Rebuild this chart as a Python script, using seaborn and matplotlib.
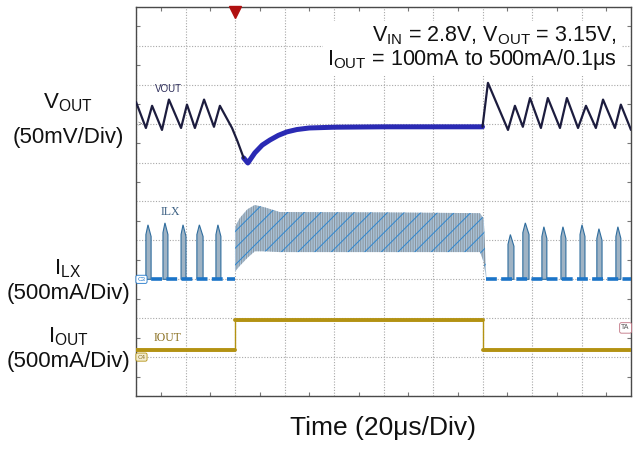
import matplotlib

matplotlib.use("Agg")

import matplotlib.pyplot as plt
import numpy as np
import pandas as pd
import seaborn as sns

# scope screen: time in us (20 us/div), amplitude in screen divisions
# channel zero levels: VOUT at 7 div, ILX at 3 div, IOUT at 1 div
time_span_us = 200
n_vdiv = 10

# VOUT ripple before the load step (PFM), black trace
vout_pre_t = [0.0, 4.0, 6.5, 10.5, 13.3, 18.2, 20.6, 23.8, 27.5, 31.5, 33.9, 38.8, 41.0, 43.5]
vout_pre_div = [7.56, 6.89, 7.46, 6.84, 7.62, 6.89, 7.49, 6.89, 7.62, 6.92, 7.46, 6.89, 6.55, 6.12]

# VOUT undershoot and recovery under load, blue trace
vout_load_t = [43.5, 45.2, 48.0, 51.0, 54.1, 57.5, 61.0, 65.0, 70.0, 80.0, 100.0, 120.0, 140.0]
vout_load_div = [6.12, 5.99, 6.25, 6.45, 6.58, 6.70, 6.79, 6.85, 6.89, 6.91, 6.92, 6.92, 6.92]

# VOUT overshoot after load release, back to PFM ripple
vout_post_t = [140.0, 142.2, 150.3, 153.1, 156.3, 159.2, 163.6, 166.4, 171.3, 174.1,
               178.6, 181.8, 185.8, 188.7, 193.5, 195.9, 200.0]
vout_post_div = [6.92, 8.05, 6.84, 7.46, 6.92, 7.66, 6.89, 7.66, 6.89, 7.66,
                 6.89, 7.46, 6.89, 7.62, 6.89, 7.49, 6.84]

# ILX: PFM bursts (light load)
ilx_zero_div = 3.0
ilx_idle_start = [0.0, 141.5]
ilx_idle_end = [40.0, 200.0]
ilx_burst_start = [4.0, 10.9, 18.2, 24.6, 32.3, 150.3, 156.3, 164.0, 171.7, 179.4, 186.2, 193.9]
ilx_burst_end = [6.1, 12.9, 20.2, 27.1, 34.3, 152.7, 158.8, 166.0, 173.7, 181.4, 188.3, 195.9]
ilx_burst_peak = [4.40, 4.45, 4.40, 4.40, 4.40, 4.15, 4.45, 4.35, 4.35, 4.40, 4.30, 4.35]

# ILX: PWM switching envelope (heavy load)
ilx_load_t = [40.0, 42.0, 45.0, 48.0, 52.0, 58.0, 100.0, 139.0, 140.5, 141.5]
ilx_load_upper = [4.35, 4.58, 4.80, 4.91, 4.85, 4.73, 4.72, 4.70, 4.55, 3.10]
ilx_load_lower = [3.20, 3.35, 3.55, 3.72, 3.72, 3.70, 3.70, 3.70, 3.44, 3.00]

# IOUT step 100 mA -> 500 mA -> 100 mA
iout_t = [0.0, 40.0, 40.0, 140.0, 140.0, 200.0]
iout_div = [1.18, 1.18, 1.95, 1.95, 1.17, 1.17]

trigger_t = 40.0

W, H = 637, 449


def fx(px):
    return px / W


def fy(py):
    return 1 - py / H


sns.set_theme(style="white")
plt.rcParams["font.family"] = ["Liberation Sans", "DejaVu Sans"]
plt.rcParams["mathtext.fontset"] = "custom"
plt.rcParams["mathtext.rm"] = "Liberation Sans"
plt.rcParams["mathtext.it"] = "Liberation Sans"
plt.rcParams["mathtext.default"] = "regular"
plt.rcParams["hatch.linewidth"] = 0.7

fig = plt.figure(figsize=(6.37, 4.49), dpi=100)
ax = fig.add_axes([fx(136), fy(396), fx(631) - fx(136), fy(7) - fy(396)])

ax.set_xlim(0, time_span_us)
ax.set_ylim(0, n_vdiv)
ax.set_xticks(np.arange(0, time_span_us + 1, 20))
ax.set_yticks(np.arange(0, n_vdiv + 1, 1))
ax.set_xticks(np.arange(0, time_span_us + 1, 10), minor=True)
ax.set_yticks(np.arange(0, n_vdiv + 0.1, 0.5), minor=True)
ax.set_xticklabels([])
ax.set_yticklabels([])
ax.tick_params(which="major", length=0)
ax.tick_params(which="minor", direction="in", length=3, width=0.8, color="#777777",
               top=True, bottom=True, left=True, right=True)
ax.grid(True, which="major", color="#a8a8a8", linestyle=(0, (1, 1.5)), linewidth=0.8)
for spine in ax.spines.values():
    spine.set_color("#4a4a4a")
    spine.set_linewidth(1.0)

# ILX heavy-load switching band
ax.fill_between(ilx_load_t, ilx_load_lower, ilx_load_upper, facecolor="#a9c2d8",
                edgecolor="#8a959e", hatch="|||||||", linewidth=0, zorder=3)
ax.fill_between(ilx_load_t, ilx_load_lower, ilx_load_upper, facecolor="none",
                edgecolor="#2d86cf", hatch="//", linewidth=0, zorder=3)

# ILX PFM bursts
for s, e, p in zip(ilx_burst_start, ilx_burst_end, ilx_burst_peak):
    mid = s + 0.4 * (e - s)
    ax.fill([s, s, mid, e, e], [ilx_zero_div, p - 0.25, p, p - 0.3, ilx_zero_div],
            facecolor="#9fb3c4", edgecolor="#2f6d9e", linewidth=0.8, zorder=3)
ax.hlines([ilx_zero_div] * len(ilx_idle_start), ilx_idle_start, ilx_idle_end,
          colors="#1b74c8", linewidth=2.6, linestyles=(0, (3, 1.2)), zorder=4)

# VOUT traces
vout_pre = pd.DataFrame({"t": vout_pre_t, "v": vout_pre_div})
vout_load = pd.DataFrame({"t": vout_load_t, "v": vout_load_div})
vout_post = pd.DataFrame({"t": vout_post_t, "v": vout_post_div})
sns.lineplot(data=vout_load, x="t", y="v", ax=ax, color="#2a2ab4", linewidth=3.6,
             sort=False, estimator=None, zorder=5)
sns.lineplot(data=vout_pre, x="t", y="v", ax=ax, color="#1c1c3e", linewidth=1.6,
             sort=False, estimator=None, zorder=6)
sns.lineplot(data=vout_post, x="t", y="v", ax=ax, color="#1c1c3e", linewidth=1.6,
             sort=False, estimator=None, zorder=6)

# IOUT trace: thin edges, thick levels
iout = pd.DataFrame({"t": iout_t, "i": iout_div})
sns.lineplot(data=iout, x="t", y="i", ax=ax, color="#b39212", linewidth=1.0,
             sort=False, estimator=None, zorder=5)
for k in range(0, len(iout_t), 2):
    sns.lineplot(data=iout.iloc[k:k + 2], x="t", y="i", ax=ax, color="#b39212",
                 linewidth=2.8, sort=False, estimator=None, zorder=5)

ax.set_xlabel("")
ax.set_ylabel("")

# trigger marker
ax.plot([trigger_t], [9.88], marker="v", markersize=9, color="#b01010",
        clip_on=False, zorder=10)

# channel tags
ax.text(0.6, 7.0, ">", fontsize=5, color="#555555", va="center", ha="left", zorder=7)
ax.text(0.6, ilx_zero_div, "C3", fontsize=4.5, color="#1b74c8", va="center", ha="left", zorder=7,
        bbox=dict(boxstyle="round,pad=0.25", facecolor="white", edgecolor="#1b74c8", linewidth=0.6))
ax.text(0.6, 1.0, "C4", fontsize=4.5, color="#8a7020", va="center", ha="left", zorder=7,
        bbox=dict(boxstyle="round,pad=0.25", facecolor="#f3ecd0", edgecolor="#b39212", linewidth=0.6))
ax.text(199.5, 1.75, "TA", fontsize=5, color="#555555", va="center", ha="right", zorder=7,
        bbox=dict(boxstyle="round,pad=0.25", facecolor="white", edgecolor="#c07080", linewidth=0.6))

# in-screen channel names
fig.text(fx(168), fy(89), "VOUT", fontsize=7, color="#2d2d5a", ha="center", va="center")
fig.text(fx(170), fy(212), "ILX", fontsize=8.5, color="#3b5f82", ha="center", va="center",
         family="Liberation Serif")
fig.text(fx(168), fy(338), "IOUT", fontsize=8.5, color="#8a7020", ha="center", va="center",
         family="Liberation Serif")

# test conditions
ax.text(194.3, 8.95,
        "V$_{IN}$ = 2.8V, V$_{OUT}$ = 3.15V,\nI$_{OUT}$ = 100mA to 500mA/0.1μs",
        fontsize=15.5, color="#111111", ha="right", va="center", multialignment="right",
        linespacing=1.0, zorder=8,
        bbox=dict(facecolor="white", edgecolor="none", pad=3))

# channel scale labels
lab = dict(fontsize=16, color="#111111", ha="center", va="center")
fig.text(fx(68), fy(103), "V$_{OUT}$", **lab)
fig.text(fx(68), fy(138), "(50mV/Div)", **lab)
fig.text(fx(68), fy(269), "I$_{LX}$", **lab)
fig.text(fx(68), fy(293), "(500mA/Div)", **lab)
fig.text(fx(68), fy(337), "I$_{OUT}$", **lab)
fig.text(fx(68), fy(361), "(500mA/Div)", **lab)

fig.text(fx(383), fy(428), "Time (20μs/Div)", fontsize=19, color="#111111",
         ha="center", va="center")

fig.savefig("out.png", dpi=100)
plt.close(fig)
